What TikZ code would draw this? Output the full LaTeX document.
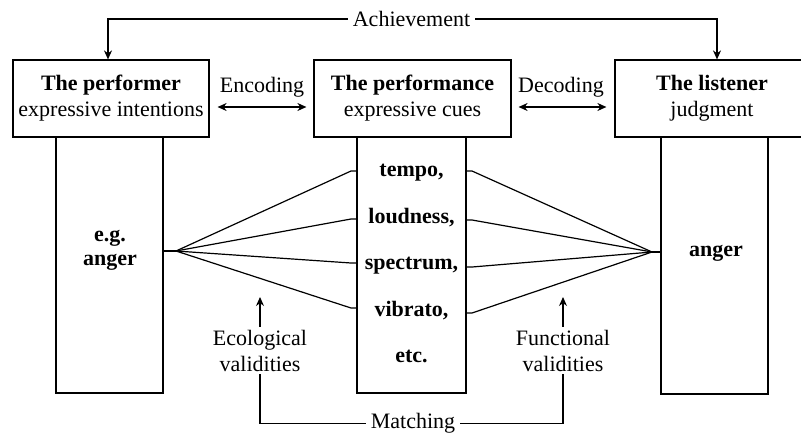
\documentclass[tikz,border=0pt]{standalone}
\usepackage{fontspec}
\setmainfont{Liberation Serif}
\usetikzlibrary{arrows.meta,calc}
\begin{document}
\begin{tikzpicture}[x=1pt,y=-1pt,
  every node/.style={font=\fontsize{22}{26}\selectfont, inner sep=0pt},
  box/.style={draw, line width=1.2pt, align=center},
  col/.style={draw, line width=1.2pt},
  ln/.style={line width=1.2pt},
  arr/.style={ln, -{Stealth[length=9pt,width=8pt]}},
  darr/.style={ln, {Stealth[length=9pt,width=8pt]}-{Stealth[length=9pt,width=8pt]}},
  cue/.style={font=\bfseries\fontsize{22}{26}\selectfont, anchor=base},
  lab/.style={align=center}]
\path[use as bounding box] (0,0) rectangle (801,434);
% columns
\node[col, minimum width=107pt, minimum height=256pt] (pcol) at (109.5,265) {};
\node[col, minimum width=109pt, minimum height=256pt] (mcol) at (411.5,265) {};
\node[col, minimum width=107pt, minimum height=257pt] (lcol) at (714.5,265.5) {};
% top boxes
\node[box, fill=white, minimum width=196pt, minimum height=77pt] (perf) at (111,98.5) {\textbf{The performer}\\expressive intentions};
\node[box, fill=white, minimum width=197pt, minimum height=77pt] (perfm) at (412.5,98.5) {\textbf{The performance}\\expressive cues};
\node[box, fill=white, minimum width=194pt, minimum height=77pt] (list) at (712,98.5) {\textbf{The listener}\\judgment};
% texts in columns
\node[cue] (eg) at (110,241.5) {e.g.};
\node[cue] (ang1) at (110,265) {anger};
\node[cue] (ang2) at (716,256.5) {anger};
\node[cue] (tempo) at (411.5,176.5) {tempo,};
\node[cue] (loud) at (411.5,223) {loudness,};
\node[cue] (spec) at (411.5,269.5) {spectrum,};
\node[cue] (vib) at (411.5,316) {vibrato,};
\node[cue] (etc) at (411.5,362.5) {etc.};
% labels
\node[anchor=base, inner xsep=5pt] (ach) at (411.5,26.5) {Achievement};
\node[anchor=base] (enc) at (262,92) {Encoding};
\node[anchor=base] (dec) at (561,92) {Decoding};
\node[anchor=base, inner xsep=5pt] (match) at (413,428.5) {Matching};
\node[lab, inner ysep=3pt] (eco) at (260,350.5) {Ecological\\validities};
\node[lab, inner ysep=3pt] (fun) at (563,350.5) {Functional\\validities};
% connectors
\draw[arr] (ach.west) -| ([xshift=-3pt]perf.north);
\draw[arr] (ach.east) -| ([xshift=5pt]list.north);
\draw[darr] ($(perf.east)+(8,8.5)$) -- ($(perfm.west)+(-7,8.5)$);
\draw[darr] ($(perfm.east)+(7,8.5)$) -- ($(list.west)+(-8,8.5)$);
\draw[arr] (eco.north) -- (eco.north |- 0,297);
\draw[arr] (fun.north) -- (fun.north |- 0,297);
\draw[ln] (eco.south) |- (match.west);
\draw[ln] (fun.south) |- (match.east);
% fans
\coordinate (lj) at (176,251);
\coordinate (rj) at (652,252);
\draw[ln] (pcol.east |- lj) -- (lj);
\draw[ln] (rj) -- (lcol.west |- rj);
\foreach \ya/\yb in {171/171, 219/220, 263/267, 308/313} {
  \draw[ln] (lj) -- (351,\ya) -- (mcol.west |- 0,\ya);
  \draw[ln] (mcol.east |- 0,\yb) -- (472,\yb) -- (rj);
}
\end{tikzpicture}
\end{document}
